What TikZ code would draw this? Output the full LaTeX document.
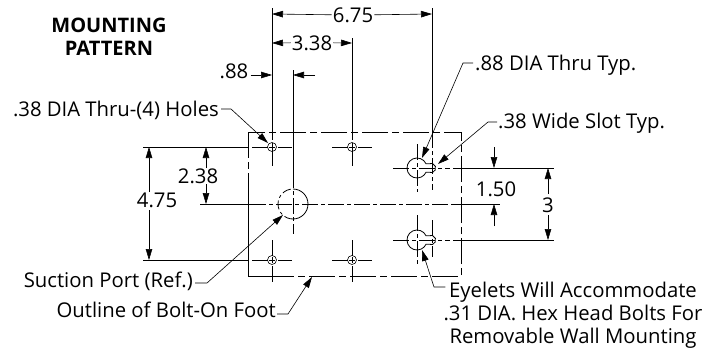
\documentclass[tikz,border=0pt]{standalone}
\usepackage{fontspec}
\setmainfont{Open Sans}
\usepackage{tikz}
\usetikzlibrary{arrows.meta, calc}
\tikzstyle{arrow} = [line width=0.6pt,-{Triangle[length=11pt,width=6.5pt]}]
\tikzstyle{leader} = [line width=0.6pt,-{Triangle[length=11pt,width=6.5pt]}]
\tikzstyle{extline} = [line width=0.8pt]
\tikzstyle{centerline} = [line width=0.7pt,dash pattern=on 16pt off 3pt on 4pt off 3pt]
\tikzstyle{outline} = [line width=0.8pt,dash pattern=on 26pt off 4pt on 7pt off 4pt]
\tikzstyle{label} = [inner sep=0pt,font=\fontsize{20.3}{23}\selectfont]

\begin{document}
\begin{tikzpicture}[x=1pt,y=-1pt]
    \useasboundingbox (0,0) rectangle (716,348);

    % Title
    \node[label,align=center,anchor=north,font=\fontsize{20}{23}\selectfont\bfseries] (title) at (109,18) {MOUNTING\\PATTERN};

    % Outline of foot
    \draw[outline] (248,132) rectangle (461,276);
    \draw[extline] (248,190) -- (248,276) -- (268,276);

    % Extension lines
    \draw[extline] (272,8) -- (272,124);
    \draw[centerline] (272,124) -- (272,168);
    \draw[centerline] (272,240) -- (272,282);
    \draw[extline] (352,38) -- (352,124);
    \draw[centerline] (352,124) -- (352,168);
    \draw[centerline] (352,240) -- (352,282);
    \draw[extline] (293,70) -- (293,172);
    \draw[centerline] (293,172) -- (293,234);
    \draw[extline] (432,8) -- (432,132);
    \draw[centerline] (432,132) -- (432,190);
    \draw[centerline] (432,220) -- (432,257);
    \draw[extline] (143,147) -- (248,147);
    \draw[extline] (143,260) -- (248,260);
    \draw[extline] (200,204) -- (250,204);
    \draw[centerline] (250,204) -- (453,204);
    \draw[extline] (453,204) -- (500,204);
    \draw[extline] (453,168) -- (554,168);
    \draw[extline] (453,240) -- (554,240);

    % Holes
    \foreach \hx in {272,352} {
        \foreach \hy in {147,260} {
            \draw[line width=0.6pt] (\hx,\hy) circle (4.5pt);
            \draw[line width=0.4pt] (\hx-3,\hy) -- (\hx+3,\hy);
            \draw[line width=0.4pt] (\hx,\hy-3) -- (\hx,\hy+3);
            \draw[centerline] (\hx-20,\hy) -- (\hx+20,\hy);
        }
    }

    % Suction port
    \draw[line width=0.8pt] (293,189) arc (90:-90:15pt);
    \draw[line width=0.8pt,dash pattern=on 9pt off 3pt on 3pt off 3pt] (293,219) arc (270:90:15pt);

    % Keyholes
    \foreach \ky in {168,240} {
        \draw[line width=0.8pt] ($(417,\ky)+(25:10pt)$) arc (25:335:10pt)
            .. controls (428,\ky+3.5) and (430,\ky+5) .. (432.5,\ky+4.5)
            arc (-70:70:4.8pt)
            .. controls (430,\ky-5) and (428,\ky-3.5) .. cycle;
        \draw[centerline] (393,\ky) -- (450,\ky);
    }
    \draw[centerline] (417,144) -- (417,192);
    \draw[centerline] (417,215) -- (417,265);

    % Dimensions
    \node[label,anchor=base] (d675) at (353,22) {6.75};
    \coordinate (d675l) at (272,14);
    \coordinate (d675r) at (432,14);
    \draw[arrow] (d675.west) ++(-1,0) -- (d675l);
    \draw[arrow] (d675.east) ++(1,0) -- (d675r);

    \node[label,anchor=base] (d338) at (312,50) {3.38};
    \coordinate (d338l) at (272,43);
    \coordinate (d338r) at (352,43);
    \draw[arrow] (d338.west) ++(-1,0) -- (d338l);
    \draw[arrow] (d338.east) ++(1,0) -- (d338r);

    \node[label,anchor=base] (d088) at (234,78) {.88};
    \coordinate (d088l) at (272,75);
    \coordinate (d088s) at (315,75);
    \coordinate (d088r) at (293,75);
    \draw[arrow] (d088.east |- d088l) ++(2,0) -- (d088l);
    \draw[arrow] (d088s) -- (d088r);

    \node[label,anchor=base] (d475) at (157,207) {4.75};
    \coordinate (d475t) at (149,147);
    \coordinate (d475b) at (149,260);
    \draw[arrow] (149,192) -- (d475t);
    \draw[arrow] (149,210) -- (d475b);

    \node[label,anchor=base] (d238) at (198,183) {2.38};
    \coordinate (d238t) at (206,147);
    \coordinate (d238b) at (206,204);
    \draw[arrow] (206,168) -- (d238t);
    \draw[arrow] (206,184) -- (d238b);

    \node[label,anchor=base] (d150) at (496,196) {1.50};
    \coordinate (d150t) at (494,168);
    \coordinate (d150b) at (494,204);
    \draw[arrow] (494,147) -- (d150t);
    \draw[arrow] (494,226) -- (d150b);

    \node[label,anchor=base] (d300) at (548,212) {3};
    \coordinate (d300t) at (548,168);
    \coordinate (d300b) at (548,240);
    \draw[arrow] (d300.north) ++(0,-3) -- (d300t);
    \draw[arrow] (d300.south) ++(0,3) -- (d300b);

    % Callouts
    \node[label,anchor=base east] (holes) at (219,116) {.38 DIA Thru-(4) Holes};
    \coordinate (holest) at (268,143);
    \draw[leader] (holes.base east) ++(2,-7) -- ++(10,0) -- (holest);

    \node[label,anchor=base west] (thru) at (475,70) {.88 DIA Thru Typ.};
    \coordinate (thrut) at (422,158);
    \draw[leader] (thru.base west) ++(-2,-7) -- (463,63) -- (thrut);

    \node[label,anchor=base west] (slot) at (498,128) {.38 Wide Slot Typ.};
    \coordinate (slott) at (438,164);
    \draw[leader] (slot.base west) ++(-1,-6) -- (488,122) -- (slott);

    \node[label,anchor=base east] (port) at (193,287) {Suction Port (Ref.)};
    \coordinate (portt) at (283,215);
    \draw[leader] (port.base east) ++(2,-4) -- (207,283) -- (portt);

    \node[label,anchor=base east] (foot) at (276,317) {Outline of Bolt-On Foot};
    \coordinate (foott) at (312,277);
    \draw[leader] (foot.base east) ++(1,-3) -- (288,314) -- (foott);

    \node[label,align=center,anchor=north] (eyelet) at (573,282) {Eyelets Will Accommodate\\.31 DIA. Hex Head Bolts For\\Removable Wall Mounting};
    \coordinate (eyelett) at (422,250);
    \draw[leader] (eyelet.north west) ++(2,5) -- (434,287) -- (eyelett);
\end{tikzpicture}
\end{document}
